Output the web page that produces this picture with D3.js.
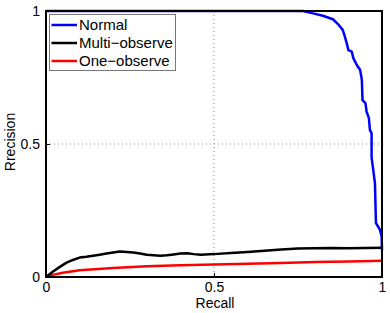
<!DOCTYPE html>
<html><head><meta charset="utf-8">
<script src="https://cdn.jsdelivr.net/npm/d3@7"></script>
<style>body{margin:0;background:#fff}svg{display:block}text{font-family:"Liberation Sans",Arial,sans-serif}</style>
</head><body><svg width="390" height="313"></svg>
<script>
const ticks = [0, 0.5, 1];
const tickLabels = ["0", "0.5", "1"];
const seriesNames = ["Normal", "Multi\u2212observe", "One\u2212observe"];
const seriesColors = ["#0000ff", "#000000", "#ff0000"];
const normalRecall = [0, 0.765, 0.795, 0.824, 0.854, 0.869, 0.883, 0.888, 0.895, 0.9, 0.91, 0.915, 0.925, 0.935, 0.94, 0.942, 0.951, 0.954, 0.961, 0.964, 0.969, 0.969, 0.974, 0.979, 0.982, 0.994, 0.999, 1];
const normalPrec   = [1, 1, 0.991, 0.982, 0.969, 0.951, 0.929, 0.91, 0.879, 0.853, 0.847, 0.822, 0.797, 0.778, 0.741, 0.665, 0.653, 0.622, 0.597, 0.553, 0.54, 0.45, 0.402, 0.353, 0.203, 0.177, 0.152, 0.1];
const multiRecall = [0, 0.02, 0.04, 0.06, 0.08, 0.1, 0.12, 0.14, 0.16, 0.18, 0.2, 0.22, 0.24, 0.26, 0.28, 0.3, 0.32, 0.34, 0.36, 0.38, 0.4, 0.42, 0.44, 0.46, 0.5, 0.55, 0.6, 0.65, 0.7, 0.75, 0.8, 0.85, 0.9, 0.95, 1];
const multiPrec   = [0, 0.02, 0.037, 0.053, 0.064, 0.073, 0.076, 0.08, 0.084, 0.088, 0.092, 0.096, 0.094, 0.092, 0.088, 0.084, 0.082, 0.08, 0.082, 0.085, 0.088, 0.089, 0.086, 0.084, 0.086, 0.09, 0.094, 0.099, 0.103, 0.107, 0.108, 0.109, 0.108, 0.109, 0.11];
const oneRecall = [0, 0.02, 0.05, 0.1, 0.2, 0.3, 0.4, 0.5, 0.6, 0.7, 0.8, 0.9, 1];
const onePrec   = [0, 0.008, 0.016, 0.025, 0.034, 0.04, 0.044, 0.047, 0.05, 0.053, 0.056, 0.058, 0.061];

const svg = d3.select("svg");
const L = 46, R = 382, T = 11, B = 277;
const x = d3.scaleLinear().domain([0, 1]).range([L, R]);
const y = d3.scaleLinear().domain([0, 1]).range([B, T]);

// grid at 0.5
svg.append("line").attr("x1", x(0.5)).attr("x2", x(0.5)).attr("y1", T).attr("y2", B)
  .attr("stroke", "#888").attr("stroke-dasharray", "1,3").attr("stroke-width", 1);
svg.append("line").attr("x1", L).attr("x2", R).attr("y1", y(0.5)).attr("y2", y(0.5))
  .attr("stroke", "#888").attr("stroke-dasharray", "1,3").attr("stroke-width", 1);

const line = d3.line().x(d => x(d[0])).y(d => y(d[1]));
const data = [
  d3.zip(oneRecall, onePrec),
  d3.zip(multiRecall, multiPrec),
  d3.zip(normalRecall, normalPrec)
];
const cols = [seriesColors[2], seriesColors[1], seriesColors[0]];
data.forEach((d, i) => {
  svg.append("path").attr("d", line(d)).attr("fill", "none")
    .attr("stroke", cols[i]).attr("stroke-width", 2.5).attr("stroke-linejoin", "round");
});

// frame
svg.append("rect").attr("x", L).attr("y", T).attr("width", R - L).attr("height", B - T)
  .attr("fill", "none").attr("stroke", "#000").attr("stroke-width", 2);

// axes
const xAxis = d3.axisBottom(x).tickValues(ticks).tickFormat((d, i) => tickLabels[i]).tickSize(-4).tickPadding(5);
const gx = svg.append("g").attr("transform", `translate(0,${B})`).call(xAxis);
const yAxis = d3.axisLeft(y).tickValues(ticks).tickFormat((d, i) => tickLabels[i]).tickSize(-4).tickPadding(6);
const gy = svg.append("g").attr("transform", `translate(${L},0)`).call(yAxis);
[gx, gy].forEach(g => {
  g.select(".domain").remove();
  g.selectAll("text").attr("font-size", 14).attr("fill", "#000").attr("font-family", '"Liberation Sans",Arial,sans-serif');
  g.selectAll("line").attr("stroke", "#000");
});

svg.append("text").attr("x", 215).attr("y", 308).attr("text-anchor", "middle")
  .attr("font-size", 14).text("Recall");
svg.append("text").attr("transform", `translate(15,142) rotate(-90)`).attr("text-anchor", "middle")
  .attr("font-size", 14).text("Rrecision");

// legend
const lg = svg.append("g");
lg.append("rect").attr("x", 49.5).attr("y", 14.5).attr("width", 126).attr("height", 56)
  .attr("fill", "#fff").attr("stroke", "#777").attr("stroke-width", 1);
seriesNames.forEach((n, i) => {
  const yy = 25 + i * 18;
  lg.append("line").attr("x1", 51.5).attr("x2", 77).attr("y1", yy).attr("y2", yy)
    .attr("stroke", seriesColors[i]).attr("stroke-width", 2.5);
  lg.append("text").attr("x", 79).attr("y", yy + 5).attr("font-size", 15).text(n);
});
</script></body></html>
